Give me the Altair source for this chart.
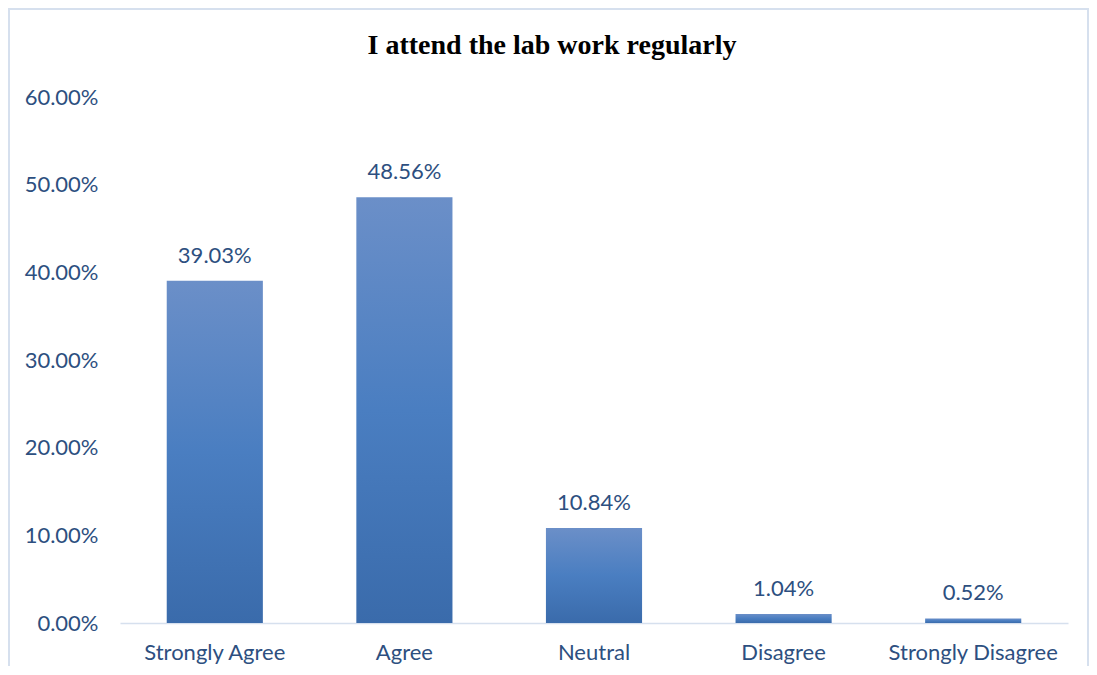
import altair as alt
import pandas as pd

categories = ["Strongly Agree", "Agree", "Neutral", "Disagree", "Strongly Disagree"]
values = [0.3903, 0.4856, 0.1084, 0.0104, 0.0052]
labels = ["39.03%", "48.56%", "10.84%", "1.04%", "0.52%"]
y_ticks = [0.0, 0.1, 0.2, 0.3, 0.4, 0.5, 0.6]

df = pd.DataFrame({"cat": categories, "val": values, "lab": labels})

TXT = "#2d4f80"
FONT = "Lato"

grad = alt.Gradient(
    gradient="linear",
    stops=[
        alt.GradientStop(color="#6b8fc8", offset=0),
        alt.GradientStop(color="#4a7ec1", offset=0.5),
        alt.GradientStop(color="#3a6bab", offset=1),
    ],
    x1=0, x2=0, y1=0, y2=1,
)

x_enc = alt.X(
    "cat:N", sort=categories, title=None,
    scale=alt.Scale(paddingInner=0.493, paddingOuter=0.2465),
    axis=alt.Axis(labelAngle=0, ticks=False, domainColor="#d6e0ee", domainWidth=1.5,
                  labelPadding=19, labelFont=FONT, labelFontSize=22, labelColor=TXT),
)
y_enc = alt.Y(
    "val:Q", title=None,
    scale=alt.Scale(domain=[0, 0.6], nice=False),
    axis=alt.Axis(values=y_ticks, format=".2%", ticks=False, domain=False, grid=False,
                  labelPadding=22, labelFont=FONT, labelFontSize=22, labelColor=TXT),
)

bars = alt.Chart(df).mark_bar(fill=grad).encode(x=x_enc, y=y_enc)
text = alt.Chart(df).mark_text(dy=-18, baseline="alphabetic", font=FONT, fontSize=22, color=TXT).encode(
    x=alt.X("cat:N", sort=categories), y="val:Q", text="lab:N"
)
frame = alt.Chart(pd.DataFrame({"f": [0]})).mark_rect(
    filled=False, stroke="#d6e0ee", strokeWidth=2
).encode(x=alt.value(-111), x2=alt.value(968), y=alt.value(-88), y2=alt.value(700))

chart = alt.layer(frame, bars, text).properties(
    width=948, height=526,
    title=alt.TitleParams(
        "I attend the lab work regularly", font="Liberation Serif", fontSize=28,
        fontWeight="bold", color="#000000", anchor="middle", frame="group", dx=-42,
        baseline="alphabetic", offset=-74,
    ),
    autosize=alt.AutoSizeParams(type="none"),
    padding={"left": 112, "top": 89, "right": 21, "bottom": 43},
).configure_view(stroke=None)

chart.save("out.html", embed_options={"renderer": "svg", "actions": False})
